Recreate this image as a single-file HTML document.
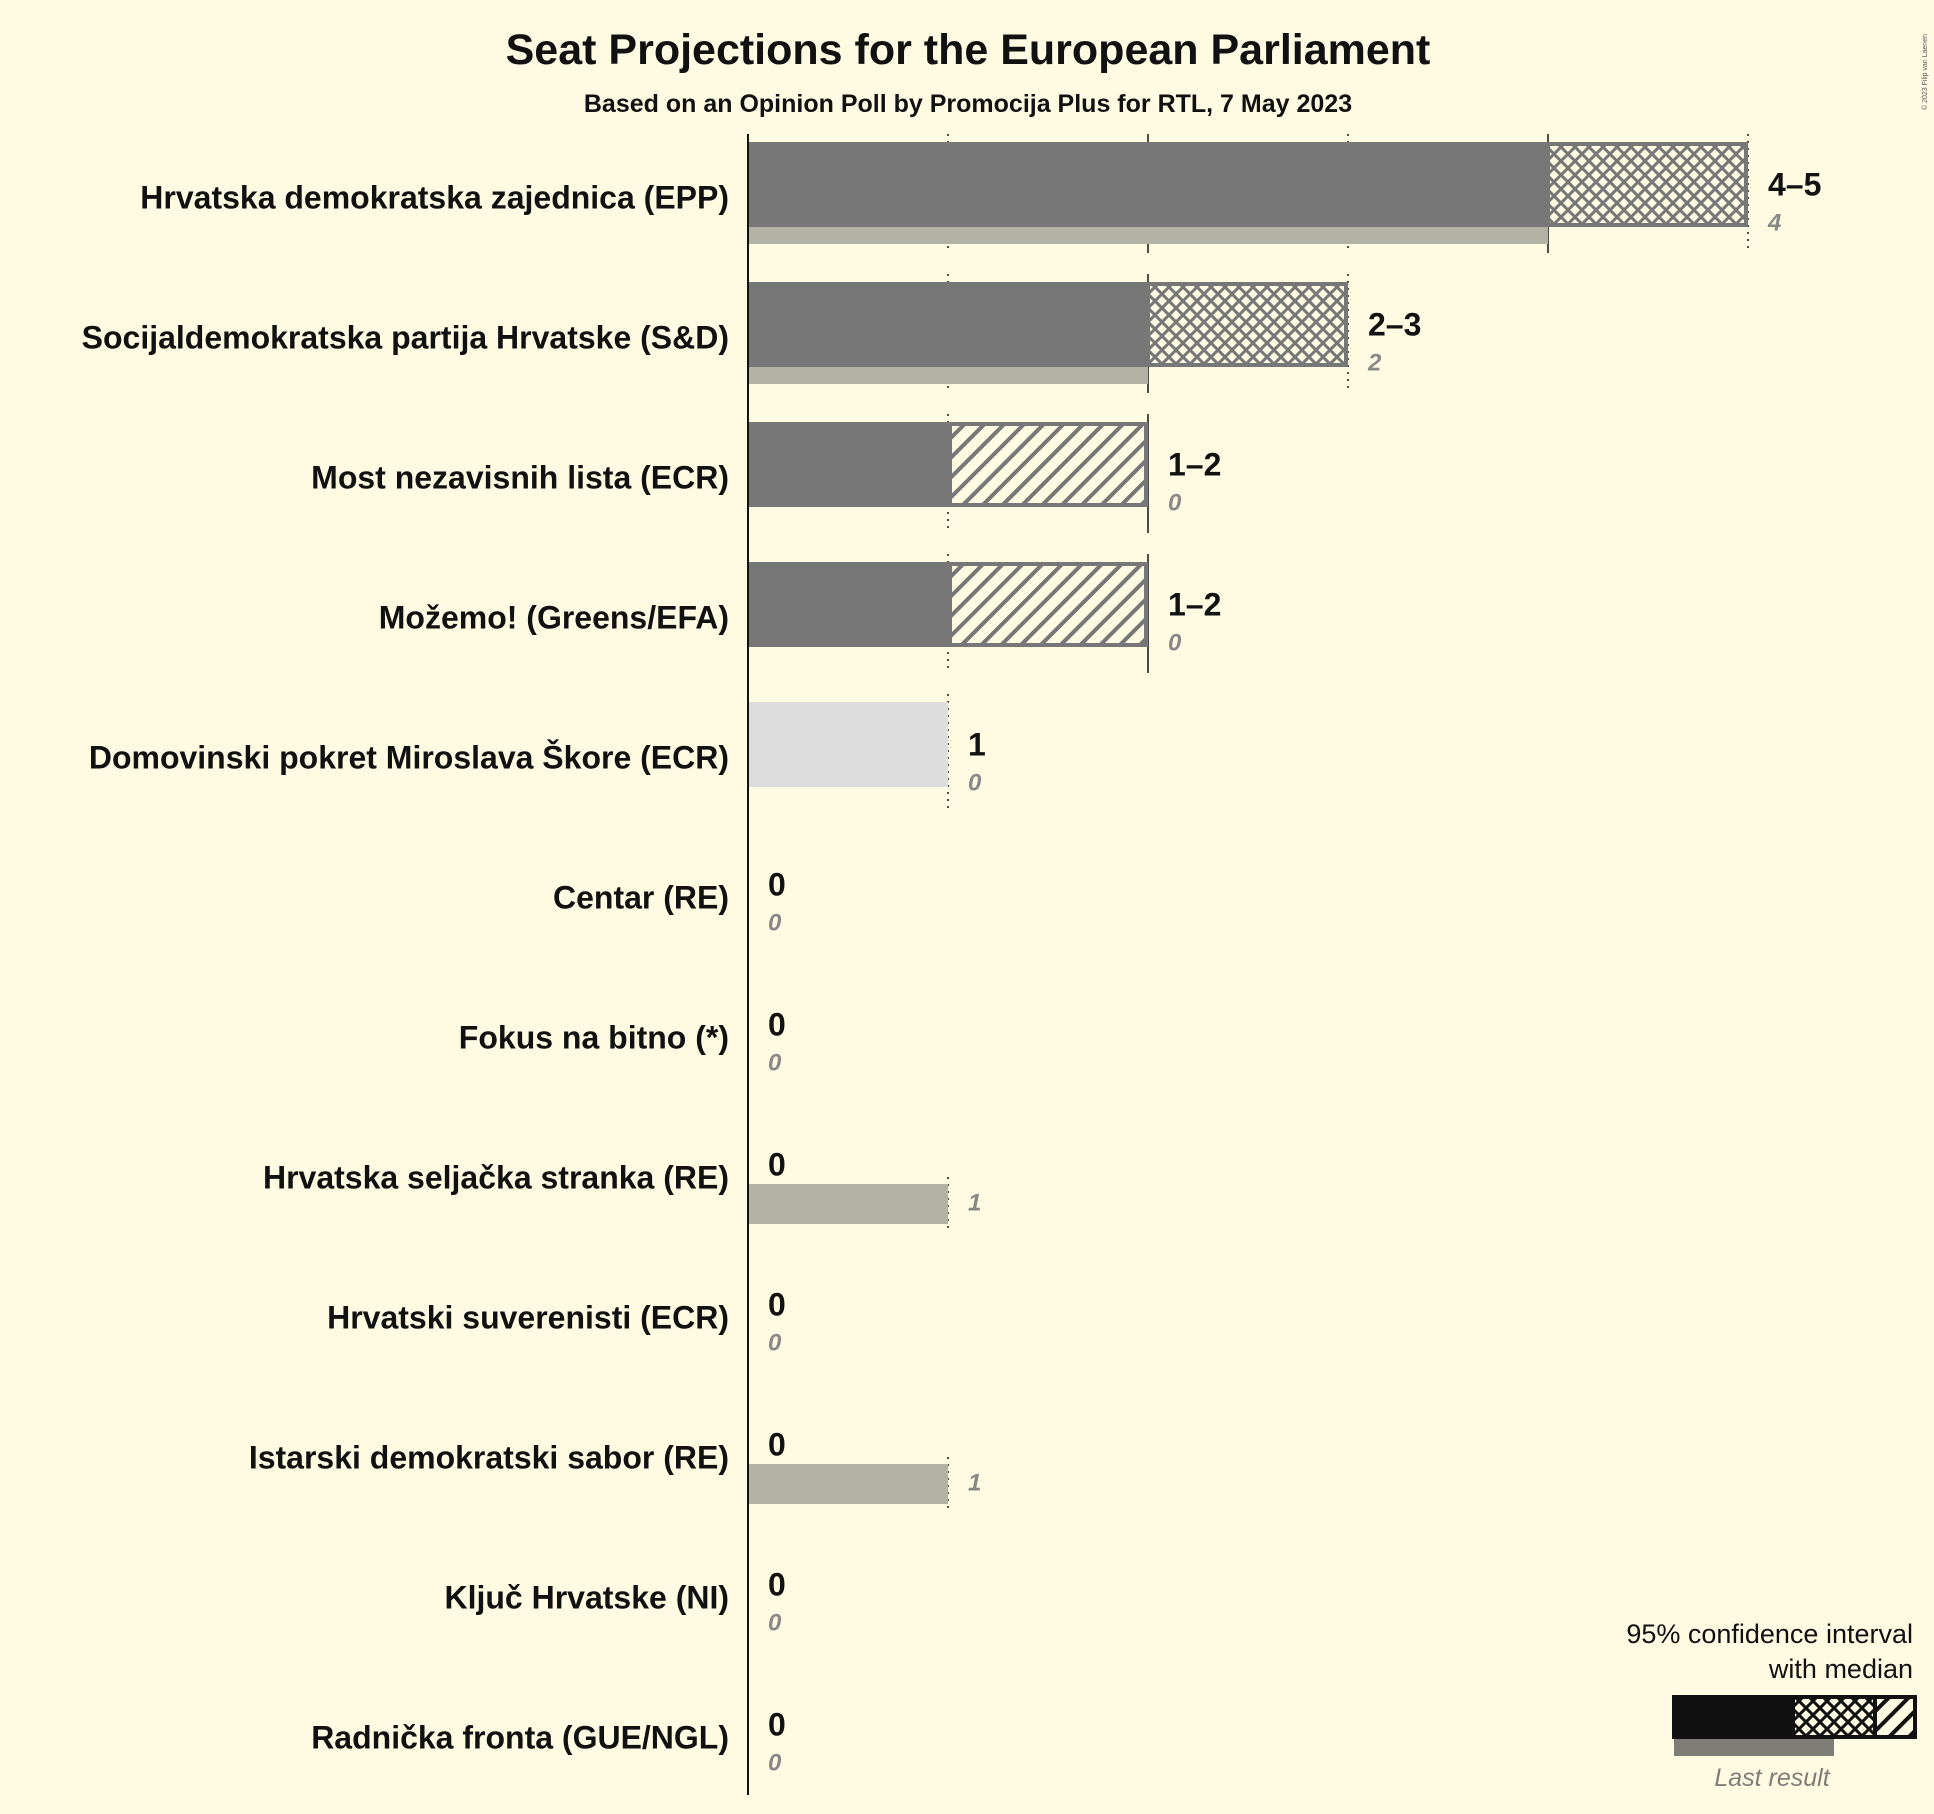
<!DOCTYPE html>
<html><head><meta charset="utf-8"><style>
html,body{margin:0;padding:0;background:#fffbe3;}
svg{display:block;font-family:"Liberation Sans",sans-serif;}
</style></head><body>
<svg id="chart" width="1934" height="1814" viewBox="0 0 1934 1814" xmlns="http://www.w3.org/2000/svg">
<defs>
<pattern id="cross" patternUnits="userSpaceOnUse" width="14" height="14">
<rect width="14" height="14" fill="#fffbe3"/>
<path d="M0,0 L14,14 M14,0 L0,14" stroke="#777" stroke-width="3"/>
</pattern>
<pattern id="diag" patternUnits="userSpaceOnUse" width="14" height="14" patternTransform="rotate(45)">
<rect width="14" height="14" fill="#fffbe3"/>
<rect x="0" y="0" width="4" height="14" fill="#777"/>
</pattern>
<pattern id="crossK" patternUnits="userSpaceOnUse" width="14" height="14">
<rect width="14" height="14" fill="#fffbe3"/>
<path d="M0,0 L14,14 M14,0 L0,14" stroke="#111" stroke-width="3"/>
</pattern>
<pattern id="diagK" patternUnits="userSpaceOnUse" width="14" height="14" patternTransform="rotate(45)">
<rect width="14" height="14" fill="#fffbe3"/>
<rect x="0" y="0" width="4" height="14" fill="#111"/>
</pattern>
</defs>
<rect width="1934" height="1814" fill="#fffbe3"/>
<text x="968" y="64" text-anchor="middle" font-size="43" font-weight="bold" fill="#111">Seat Projections for the European Parliament</text>
<text x="968" y="112" text-anchor="middle" font-size="25" font-weight="bold" fill="#111">Based on an Opinion Poll by Promocija Plus for RTL, 7 May 2023</text>
<text x="1927" y="110" transform="rotate(-90 1927 110)" font-size="7" fill="#555">© 2023 Filip van Laenen</text>
<g id="plot"></g>
<g>
<text x="1913" y="1643" text-anchor="end" font-size="27" fill="#111">95% confidence interval</text>
<text x="1913" y="1678" text-anchor="end" font-size="27" fill="#111">with median</text>
<rect x="1674" y="1739" width="160" height="17" fill="#7f7e76"/>
<rect x="1672" y="1695" width="121" height="44" fill="#111"/>
<rect x="1793" y="1697" width="82" height="40" fill="url(#crossK)" stroke="#111" stroke-width="4"/>
<rect x="1875" y="1697" width="40" height="40" fill="url(#diagK)" stroke="#111" stroke-width="4"/>
<text x="1772" y="1786" text-anchor="middle" font-size="25" font-style="italic" fill="#7f7e76">Last result</text>
</g>
</svg>
<script>
const parties = ["Hrvatska demokratska zajednica (EPP)","Socijaldemokratska partija Hrvatske (S&D)","Most nezavisnih lista (ECR)","Možemo! (Greens/EFA)","Domovinski pokret Miroslava Škore (ECR)","Centar (RE)","Fokus na bitno (*)","Hrvatska seljačka stranka (RE)","Hrvatski suverenisti (ECR)","Istarski demokratski sabor (RE)","Ključ Hrvatske (NI)","Radnička fronta (GUE/NGL)"];
const ciLow = [4,2,1,1,1,0,0,0,0,0,0,0];
const median = [5,3,1,1,1,0,0,0,0,0,0,0];
const ciHigh = [5,3,2,2,1,0,0,0,0,0,0,0];
const lastResult = [4,2,0,0,0,0,0,1,0,1,0,0];
const lightBar = [false,false,false,false,true,false,false,false,false,false,false,false];

const X0 = 748, SEAT = 200, ROW0 = 142, ROWH = 140, BARH = 85, LASTH = 17;
const xs = v => X0 + v*SEAT;
const ys = i => ROW0 + i*ROWH;
const NS = "http://www.w3.org/2000/svg";
const plot = document.getElementById('plot');
function mk(tag, attrs){const e=document.createElementNS(NS,tag);for(const k in attrs)e.setAttribute(k,attrs[k]);plot.appendChild(e);return e;}

parties.forEach((p,i)=>{
  const top = ys(i);
  const maxV = Math.max(ciHigh[i], lastResult[i]);
  const zeroRow = ciHigh[i] === 0;
  for(let k=1;k<=maxV;k++){
    const g = mk('line',{x1:xs(k),x2:xs(k),y1:zeroRow?top+55:top-8,y2:top+BARH+26,stroke:'#111','stroke-width':1.5,'stroke-dasharray':k%2?'2,5':'none'});
    
    
  }
  if(lastResult[i]>0){
    const h = zeroRow ? 40 : LASTH;
    const r = mk('rect',{x:xs(0),y:top+BARH+LASTH-h,width:xs(lastResult[i])-xs(0),height:h,fill:'#b4b2a5'});
    
    
  }
  if(ciLow[i]>0){
    const r = mk('rect',{x:xs(0),y:top,width:xs(ciLow[i])-xs(0),height:BARH,fill:lightBar[i]?'#dddddd':'#777777'});
    
    
  }
  if(median[i]>ciLow[i]){
    const r = mk('rect',{x:xs(ciLow[i]),y:top+2,width:xs(median[i])-xs(ciLow[i])-2,height:BARH-4,fill:'url(#cross)',stroke:'#777','stroke-width':4});
    
    
  }
  if(ciHigh[i]>median[i]){
    const r = mk('rect',{x:xs(median[i])+2,y:top+2,width:xs(ciHigh[i])-xs(median[i])-4,height:BARH-4,fill:'url(#diag)',stroke:'#777','stroke-width':4});
    
    
  }
  const lbl = mk('text',{x:729,y:top+BARH/2+24,'text-anchor':'end','font-size':32,'font-weight':'bold',fill:'#111'});
  lbl.textContent = p;
  
  
  const vx = xs(ciHigh[i]) + 20;
  const vl = mk('text',{x:vx,y:top+BARH/2+11,'font-size':32,'font-weight':'bold',fill:'#111'});
  vl.textContent = ciLow[i]===ciHigh[i] ? String(ciLow[i]) : ciLow[i]+'–'+ciHigh[i];
  
  
  const lx = Math.max(vx, xs(lastResult[i])+20);
  const ll = mk('text',{x:lx,y:top+BARH/2+46,'font-size':24,'font-style':'italic','font-weight':'bold',fill:'#888'});
  ll.textContent = String(lastResult[i]);
  
  
});
const ax = mk('line',{x1:X0,x2:X0,y1:134,y2:1795,stroke:'#111','stroke-width':2});


</script>
</body></html>
